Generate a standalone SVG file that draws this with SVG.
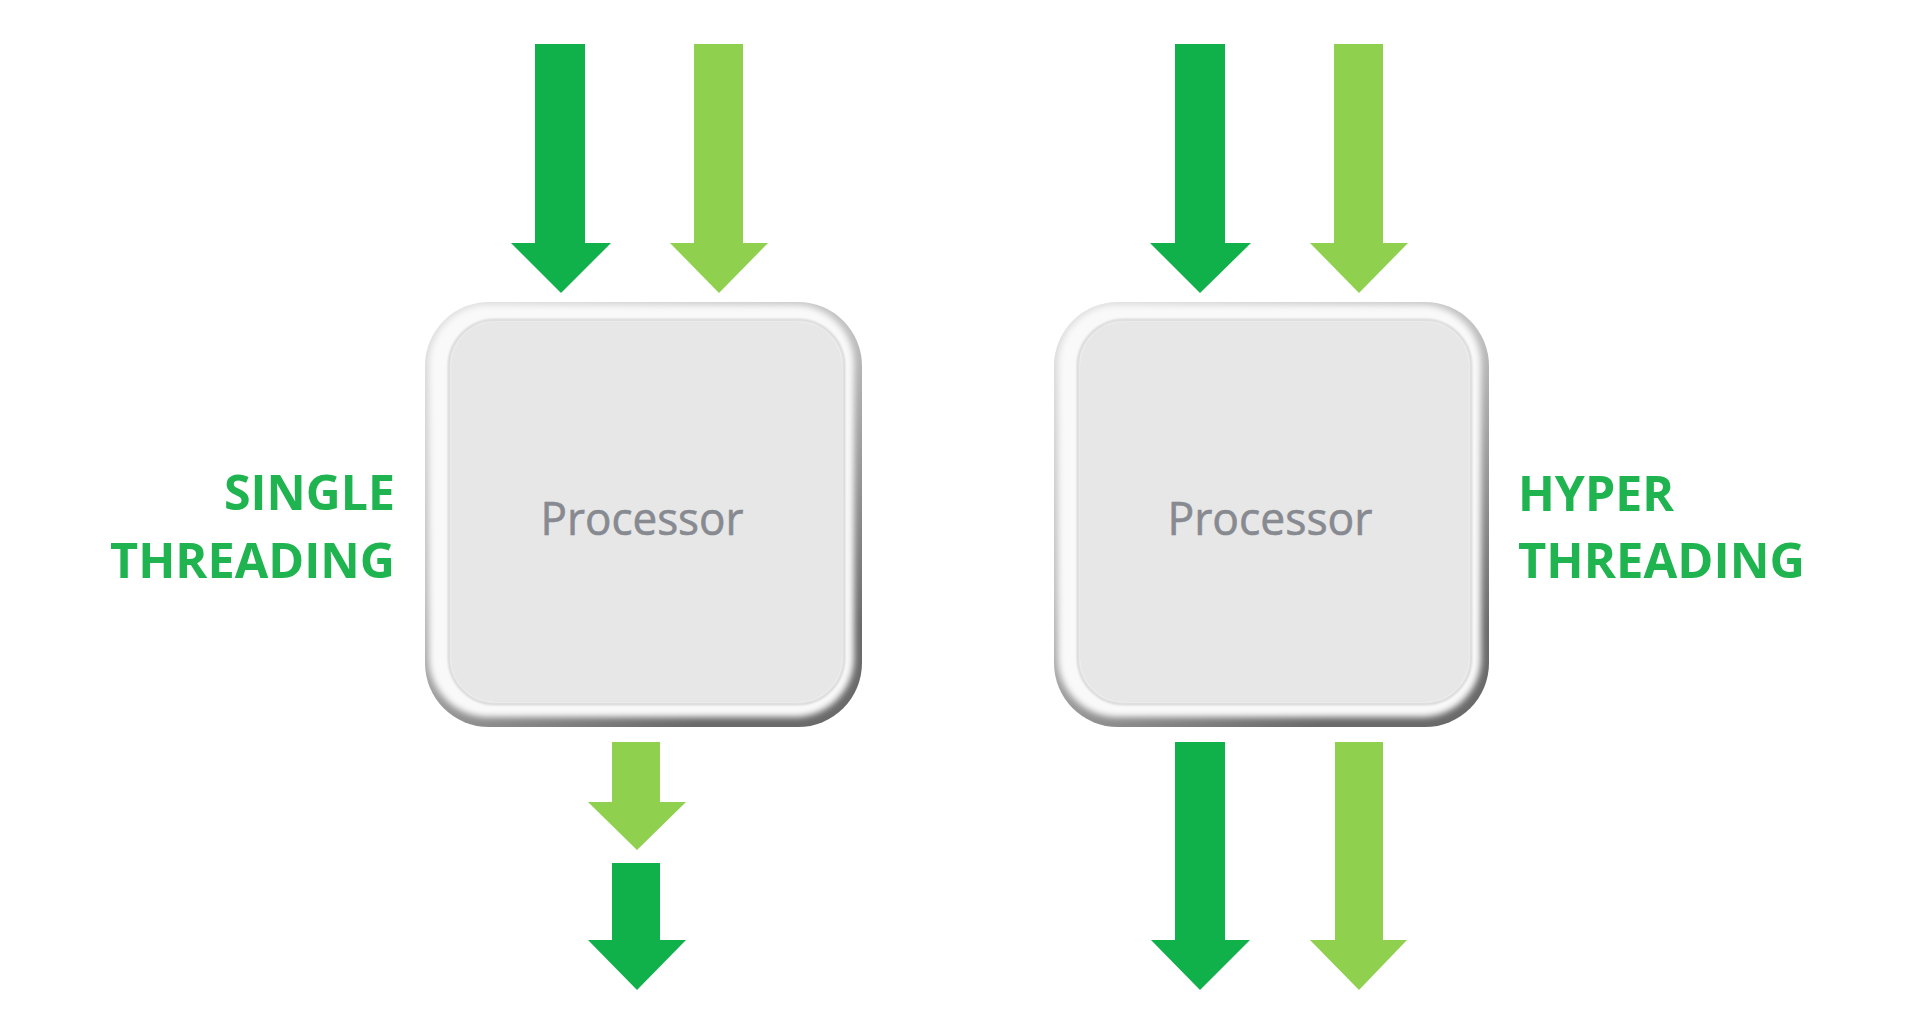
<svg xmlns="http://www.w3.org/2000/svg" width="1920" height="1034" viewBox="0 0 1920 1034">
  <defs>
    <style>
      .dark { fill: #10b14b; }
      .light { fill: #8fd14f; }
      .label { font-family: "Open Sans", "Liberation Sans", sans-serif; font-weight: bold; font-size: 48px; fill: #1fb450; }
      .proc { font-family: "Open Sans", "Liberation Sans", sans-serif; font-size: 45px; fill: #878a90; stroke: #878a90; stroke-width: 0.6px; }
      .outer { fill: url(#outerGrad); }
      .hl { fill: #f9f9f9; }
      .line { fill: none; stroke: #cdcdcd; stroke-width: 2; }
      .face { fill: #e7e7e7; }
    </style>
    <linearGradient id="outerGrad" x1="0" y1="0" x2="0.6" y2="1">
      <stop offset="0" stop-color="#e2e2e2"/>
      <stop offset="0.5" stop-color="#bdbdbd"/>
      <stop offset="1" stop-color="#6a6a6a"/>
    </linearGradient>
    <filter id="soft" x="-10%" y="-10%" width="120%" height="120%">
      <feGaussianBlur stdDeviation="3"/>
    </filter>
    <filter id="soft1" x="-10%" y="-10%" width="120%" height="120%">
      <feGaussianBlur stdDeviation="1"/>
    </filter>
  </defs>
  <rect width="1920" height="1034" fill="#ffffff"/>

  <g id="connectors">
    <!-- left top -->
    <polygon class="dark" points="535,44 585,44 585,243 611,243 561,293 511,243 535,243"/>
    <polygon class="light" points="694,44 743,44 743,243 768,243 719,293 670,243 694,243"/>
    <!-- left bottom -->
    <polygon class="light" points="612,742 660,742 660,802 686,802 637,850 588,802 612,802"/>
    <polygon class="dark" points="612,863 660,863 660,940 686,940 637,990 588,940 612,940"/>
    <!-- right top -->
    <polygon class="dark" points="1175,44 1225,44 1225,243 1251,243 1200,293 1150,243 1175,243"/>
    <polygon class="light" points="1334,44 1383,44 1383,243 1408,243 1359,293 1310,243 1334,243"/>
    <!-- right bottom -->
    <polygon class="dark" points="1175,742 1225,742 1225,940 1250,940 1200,990 1151,940 1175,940"/>
    <polygon class="light" points="1335,742 1383,742 1383,940 1407,940 1359,990 1310,940 1335,940"/>
  </g>

  <g id="processor-single">
    <rect class="outer" x="425" y="302" width="437" height="425" rx="64"/>
    <rect class="hl" x="429" y="305" width="425" height="412" rx="59" filter="url(#soft)"/>
    <rect class="line" x="449" y="320" width="395" height="384" rx="46" filter="url(#soft1)"/>
    <rect class="face" x="451" y="322" width="391" height="380" rx="44"/>
    <text class="proc" x="642" y="535" text-anchor="middle" textLength="203" lengthAdjust="spacingAndGlyphs">Processor</text>
  </g>

  <g id="processor-hyper">
    <rect class="outer" x="1054" y="302" width="435" height="425" rx="64"/>
    <rect class="hl" x="1058" y="305" width="423" height="412" rx="59" filter="url(#soft)"/>
    <rect class="line" x="1078" y="320" width="393" height="384" rx="46" filter="url(#soft1)"/>
    <rect class="face" x="1080" y="322" width="389" height="380" rx="44"/>
    <text class="proc" x="1270" y="535" text-anchor="middle" textLength="205" lengthAdjust="spacingAndGlyphs">Processor</text>
  </g>

  <g id="label-single">
    <text class="label" x="395" y="510" text-anchor="end" textLength="171" lengthAdjust="spacingAndGlyphs">SINGLE</text>
    <text class="label" x="395" y="578" text-anchor="end" textLength="285" lengthAdjust="spacingAndGlyphs">THREADING</text>
  </g>

  <g id="label-hyper">
    <text class="label" x="1518" y="511" textLength="156" lengthAdjust="spacingAndGlyphs">HYPER</text>
    <text class="label" x="1518" y="578" textLength="287" lengthAdjust="spacingAndGlyphs">THREADING</text>
  </g>
</svg>
